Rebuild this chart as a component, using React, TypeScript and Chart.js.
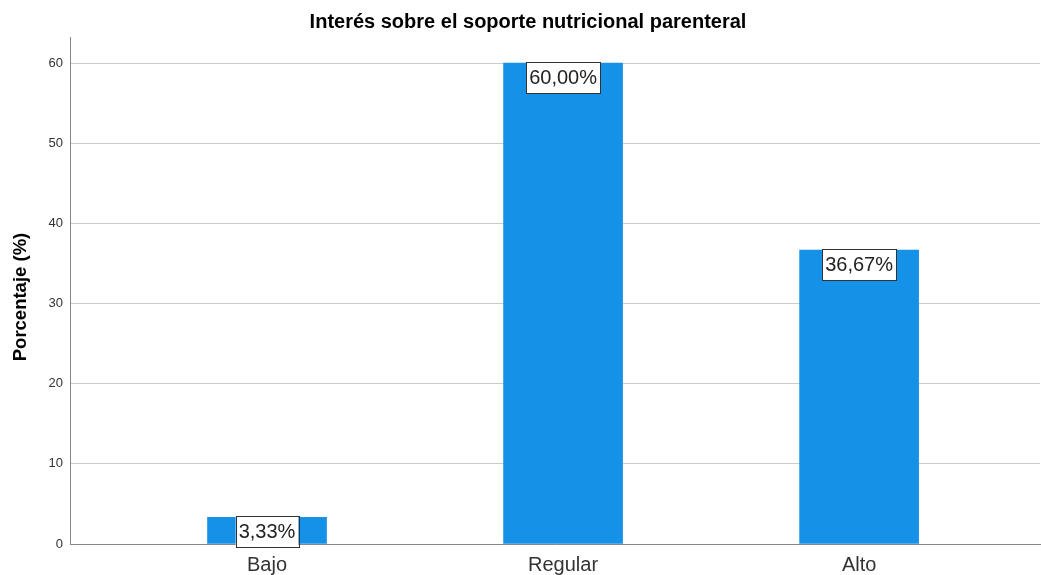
import React, { useEffect, useRef } from "react";
import { Chart, registerables } from "chart.js";

Chart.register(...registerables);

const categories: string[] = ["Bajo", "Regular", "Alto"];
const categoryPositions: number[] = [1, 2, 3];
const percentages: number[] = [3.33, 60.0, 36.67];
const yTicks: number[] = [0, 10, 20, 30, 40, 50, 60];
const chartTitle = "Interés sobre el soporte nutricional parenteral";
const yAxisTitle = "Porcentaje (%)";

const FONT = "'Liberation Sans', Arial, sans-serif";

const labelPlugin = {
  id: "boxLabels",
  afterDatasetsDraw(chart: any) {
    const ctx = chart.ctx;
    const meta = chart.getDatasetMeta(0);
    ctx.save();
    ctx.font = `20px ${FONT}`;
    ctx.textAlign = "center";
    ctx.textBaseline = "middle";
    meta.data.forEach((bar: any, i: number) => {
      const text = percentages[i].toFixed(2).replace(".", ",") + "%";
      const w = ctx.measureText(text).width + 6;
      const h = 31;
      const x = bar.x - w / 2;
      const y = bar.y - 1;
      ctx.fillStyle = "#ffffff";
      ctx.fillRect(x, y, w, h);
      ctx.strokeStyle = "#333333";
      ctx.lineWidth = 1;
      ctx.strokeRect(Math.round(x) + 0.5, Math.round(y) + 0.5, Math.round(w), h);
      ctx.fillStyle = "#222222";
      ctx.fillText(text, bar.x, y + h / 2 + 1);
    });
    ctx.restore();
  },
};

const titlesPlugin = {
  id: "titles",
  afterDraw(chart: any) {
    const ctx = chart.ctx;
    ctx.save();
    ctx.fillStyle = "#000000";
    ctx.textAlign = "center";
    ctx.textBaseline = "middle";
    ctx.font = `bold 20px ${FONT}`;
    ctx.fillText(chartTitle, 528, 22);
    ctx.translate(21, 297);
    ctx.rotate(-Math.PI / 2);
    ctx.font = `bold 18.5px ${FONT}`;
    ctx.fillText(yAxisTitle, 0, 0);
    ctx.restore();
  },
};

export default function App() {
  const ref = useRef<HTMLCanvasElement | null>(null);

  useEffect(() => {
    document.body.style.margin = "0";
    const canvas = ref.current;
    if (!canvas) return;
    const chart = new Chart(canvas, {
      type: "bar",
      data: {
        datasets: [
          {
            data: categoryPositions.map((x, i) => ({ x, y: percentages[i] })),
            backgroundColor: "#1591E8",
            barThickness: 119,
          } as any,
        ],
      },
      options: {
        animation: false,
        responsive: false,
        maintainAspectRatio: false,
        layout: { padding: { left: 0, right: 1, top: 37, bottom: 0 } },
        plugins: {
          legend: { display: false },
          tooltip: { enabled: false },
          title: { display: false },
        },
        scales: {
          x: {
            type: "linear",
            offset: false,
            min: 0.3345,
            max: 3.611,
            grid: { display: false, drawTicks: false },
            border: { display: true, color: "#888888", width: 1 },
            afterBuildTicks: (scale: any) => {
              scale.ticks = categoryPositions.map((v) => ({ value: v }));
            },
            afterFit: (scale: any) => {
              scale.height = 31;
            },
            ticks: {
              autoSkip: false,
              maxRotation: 0,
              padding: 9,
              color: "#333333",
              font: { family: FONT, size: 20 },
              callback: (v: any) => {
                const idx = categoryPositions.indexOf(Number(v));
                return idx >= 0 ? categories[idx] : "";
              },
            },
          },
          y: {
            min: 0,
            max: 63.25,
            afterBuildTicks: (scale: any) => {
              scale.ticks = yTicks.map((v) => ({ value: v }));
            },
            afterFit: (scale: any) => {
              scale.width = 70;
            },
            grid: { color: "#cccccc", lineWidth: 1, drawTicks: false },
            border: { display: true, color: "#888888", width: 1 },
            ticks: {
              padding: 7,
              color: "#333333",
              font: { family: FONT, size: 13 },
            },
            title: { display: false },
          },
        },
      },
      plugins: [labelPlugin, titlesPlugin],
    });
    return () => chart.destroy();
  }, []);

  return (
    <div style={{ position: "fixed", left: 0, top: 0, width: 1041, height: 575, background: "#fff" }}>
      <canvas ref={ref} width={1041} height={575} style={{ width: 1041, height: 575 }} />
    </div>
  );
}
